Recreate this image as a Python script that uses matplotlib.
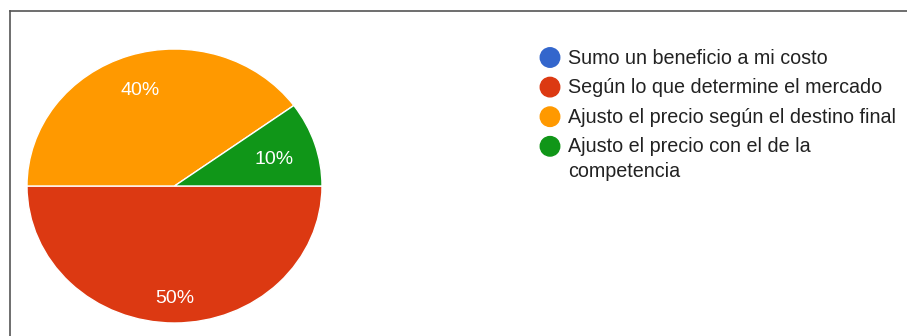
"""Pie chart of pricing strategies with a Google-style legend."""
import textwrap

import matplotlib

matplotlib.use("Agg")
import matplotlib.pyplot as plt
from matplotlib.lines import Line2D
from matplotlib.patches import Ellipse

categories = [
    "Sumo un beneficio a mi costo",
    "Según lo que determine el mercado",
    "Ajusto el precio según el destino final",
    "Ajusto el precio con el de la competencia",
]
shares = [0, 50, 40, 10]
colors = ["#3366CC", "#DC3912", "#FF9900", "#109618"]

W, H = 907, 336
TEXT = "#222222"
plt.rcParams["font.family"] = ["Liberation Sans", "DejaVu Sans"]


def fx(px):
    return px / W


def fy(py):
    return 1 - py / H


fig = plt.figure(figsize=(W / 100, H / 100), dpi=100)

# frame lines along top and left edge
fig.add_artist(Line2D([fx(9.5), 1], [fy(10.5), fy(10.5)], color="#555555", lw=1.2))
fig.add_artist(Line2D([fx(9.5), fx(9.5)], [fy(10.5), 0], color="#555555", lw=1.2))

ax = fig.add_axes([fx(27), fy(323), fx(295), 274 / H])
wedges, _, autotexts = ax.pie(
    shares,
    colors=colors,
    startangle=0,
    counterclock=False,
    autopct=lambda p: f"{p:.0f}%" if p > 0 else "",
    pctdistance=0.75,
    wedgeprops=dict(edgecolor="white", linewidth=1),
    textprops=dict(color="white", fontsize=14),
)
ax.set_aspect("auto")
ax.set_xlim(-1, 1)
ax.set_ylim(-1, 1)
ax.axis("off")

# per-slice label radius (Google places them a little unevenly)
label_radius = [0.75, 0.80, 0.76, 0.71]
for t, r in zip(autotexts, label_radius):
    x, y = t.get_position()
    t.set_position((x * r / 0.75, y * r / 0.75 - 0.008))
    t.set_va("center_baseline")

row0, row_step = 57.5, 29.6
for i, (label, color) in enumerate(zip(categories, colors)):
    y = row0 + i * row_step
    fig.add_artist(
        Ellipse((fx(550), fy(y)), width=fx(19.5), height=19.5 / H, color=color,
                transform=fig.transFigure)
    )
    fig.text(fx(568), fy(y - 9), textwrap.fill(label, 39), color=TEXT,
             fontsize=14.2, va="top", ha="left", linespacing=1.37)

fig.savefig("out.png", dpi=100)
